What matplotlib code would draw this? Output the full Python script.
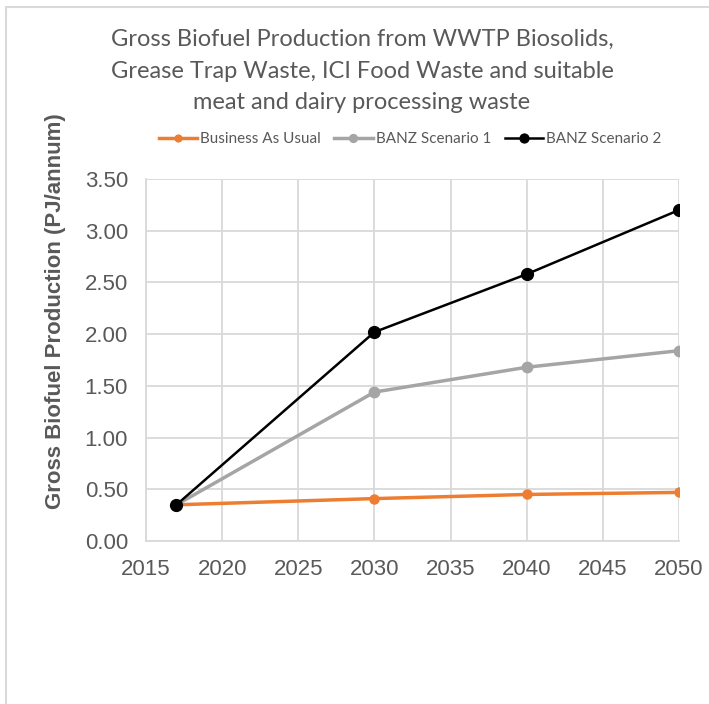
import matplotlib
matplotlib.use("Agg")
import matplotlib.pyplot as plt
from matplotlib.patches import Rectangle

years = [2017, 2030, 2040, 2050]
bau = [0.35, 0.41, 0.45, 0.47]
banz1 = [0.35, 1.44, 1.68, 1.84]
banz2 = [0.35, 2.02, 2.58, 3.20]
series_names = ["Business As Usual", "BANZ Scenario 1", "BANZ Scenario 2"]
title = ("Gross Biofuel Production from WWTP Biosolids,\n"
         "Grease Trap Waste, ICI Food Waste and suitable\n"
         "meat and dairy processing waste")
ylabel = "Gross Biofuel Production (PJ/annum)"

fig = plt.figure(figsize=(7.09, 7.04), dpi=100)
fig.patches.append(Rectangle((6/709, -0.1), 1.2, 1 - 7/704 + 0.1, transform=fig.transFigure,
                             fill=False, edgecolor="#d9d9d9", linewidth=1.5))

ax = fig.add_axes([146/709, 1 - 541/704, 533/709, 362/704])
ax.plot(years, bau, color="#ed7d31", lw=2.5, marker="o", ms=6.5, label=series_names[0], zorder=3)
ax.plot(years, banz1, color="#a5a5a5", lw=2.5, marker="o", ms=7.5, label=series_names[1], zorder=4)
ax.plot(years, banz2, color="#000000", lw=1.8, marker="o", ms=8.5, label=series_names[2], zorder=5)

ax.set_xlim(2015, 2050)
ax.set_ylim(0, 3.5)
ax.set_xticks(range(2015, 2051, 5))
ax.set_yticks([i * 0.5 for i in range(8)])
ax.set_yticklabels([f"{i*0.5:.2f}" for i in range(8)])
ax.grid(True, color="#d9d9d9", lw=1.3)
ax.set_axisbelow(True)
for s in ["top", "right"]:
    ax.spines[s].set_visible(False)
for s in ["left", "bottom"]:
    ax.spines[s].set_color("#d9d9d9")
    ax.spines[s].set_linewidth(1.3)
ax.tick_params(length=0, labelsize=16, colors="#595959")
ax.tick_params(axis="x", pad=13)
ax.tick_params(axis="y", pad=13)
for lab in ax.get_xticklabels() + ax.get_yticklabels():
    lab.set_family("Liberation Sans")
ax.set_ylabel(ylabel, fontsize=16, fontweight="bold", color="#595959",
              family="Liberation Sans")
ax.yaxis.set_label_coords((66 - 146) / 533, (541 - 311) / 362)

fig.text(362/709, 1 - 71/704, title, ha="center", va="center", fontsize=17,
         color="#595959", family="Lato", linespacing=1.6)
leg = fig.legend(loc="center", bbox_to_anchor=(410/709, 1 - 139/704), ncol=3, frameon=False,
                 prop={"family": "Lato", "size": 11}, labelcolor="#595959",
                 handlelength=2.5, columnspacing=0.9, handletextpad=0.2, markerscale=0.75)
fig.savefig("out.png", dpi=100)
